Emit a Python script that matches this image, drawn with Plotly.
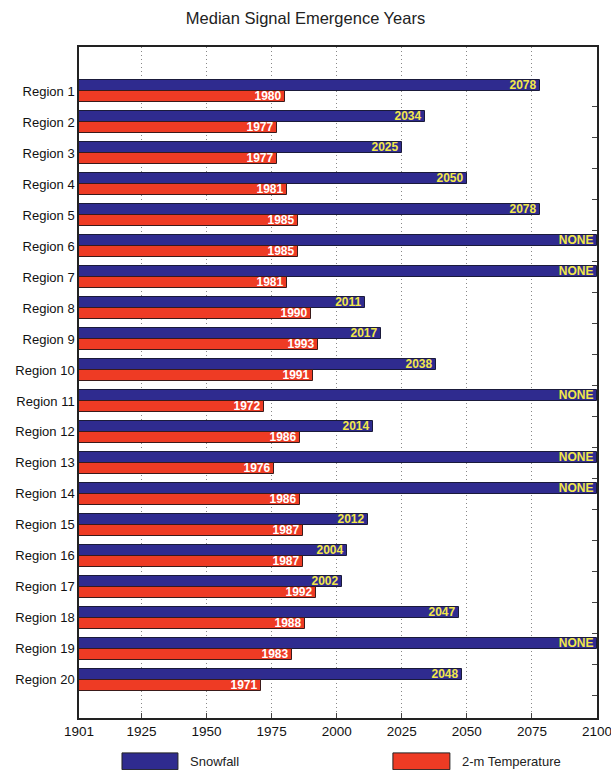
import plotly.graph_objects as go

regions = [f"Region {i}" for i in range(1, 21)]
snowfall = [2078, 2034, 2025, 2050, 2078, None, None, 2011, 2017, 2038,
            None, 2014, None, None, 2012, 2004, 2002, 2047, None, 2048]
temperature = [1980, 1977, 1977, 1981, 1985, 1985, 1981, 1990, 1993, 1991,
               1972, 1986, 1976, 1986, 1987, 1987, 1992, 1988, 1983, 1971]
x_ticks = [1901, 1925, 1950, 1975, 2000, 2025, 2050, 2075, 2100]

X0, X1 = 1901, 2100
pos = list(range(1, len(regions) + 1))

snow_end = [v if v is not None else X1 for v in snowfall]
snow_txt = [str(v) if v is not None else "NONE" for v in snowfall]

BLUE = "#2f2b8f"
RED = "#ee3b24"
FONT = "Liberation Sans, Arial, sans-serif"

fig = go.Figure()
fig.add_trace(go.Bar(
    y=[p - 0.18 for p in pos], x=[v - X0 for v in snow_end], base=X0,
    orientation="h", width=0.36, marker=dict(color=BLUE, line=dict(color="#1a1a3a", width=1)),
    text=snow_txt, textposition="inside", insidetextanchor="end", constraintext="none",
    textfont=dict(color="#f2e84a", size=12, family=FONT, weight="bold"),
    name="Snowfall", showlegend=False,
))
fig.add_trace(go.Bar(
    y=[p + 0.18 for p in pos], x=[v - X0 for v in temperature], base=X0,
    orientation="h", width=0.36, marker=dict(color=RED, line=dict(color="#3a1a1a", width=1)),
    text=[str(v) for v in temperature], textposition="inside", insidetextanchor="end",
    constraintext="none",
    textfont=dict(color="white", size=12, family=FONT, weight="bold"),
    name="2-m Temperature", showlegend=False,
))
# invisible trace for right-side tick marks
fig.add_trace(go.Scatter(x=[X0], y=[1], yaxis="y2", mode="markers",
                         marker=dict(opacity=0), showlegend=False, hoverinfo="skip"))

fig.update_layout(
    width=611, height=770,
    margin=dict(l=79, r=14, t=47, b=52),
    paper_bgcolor="white", plot_bgcolor="white",
    barmode="overlay", bargap=0,
    title=dict(text="Median Signal Emergence Years", x=0.5, xanchor="center",
               y=0.976, yanchor="middle",
               font=dict(size=16.5, family=FONT, color="#222")),
    font=dict(family=FONT, color="#111"),
    xaxis=dict(range=[X0, X1], tickvals=x_ticks, ticktext=[str(t) for t in x_ticks],
               showgrid=True, gridcolor="#888", griddash="1px,3px", gridwidth=1,
               showline=True, linecolor="#222", linewidth=1.5, mirror=True,
               ticks="inside", ticklen=5, tickcolor="#444", automargin=False,
               ticklabeloverflow="allow",
               tickfont=dict(size=13.5), zeroline=False),
    yaxis=dict(range=[21.23, -0.42], tickvals=pos, ticktext=regions,
               showgrid=False, showline=True, linecolor="#222", linewidth=1.5, mirror=True,
               ticks="", tickfont=dict(size=13), zeroline=False, automargin=False),
    yaxis2=dict(range=[21.23, -0.42], overlaying="y", side="right",
                tickvals=[p + 0.5 for p in pos], ticktext=["" for _ in pos],
                ticks="inside", ticklen=5, tickcolor="#444", automargin=False,
                showgrid=False, showline=False, zeroline=False),
)

# legend drawn beneath the plot
legend_items = [("Snowfall", BLUE, 0.083, 0.191, 0.21), ("2-m Temperature", RED, 0.606, 0.716, 0.736)]
for name, col, x0, x1, tx in legend_items:
    fig.add_shape(type="rect", xref="paper", yref="paper", x0=x0, x1=x1, y0=-0.077, y1=-0.052,
                  fillcolor=col, line=dict(color="#222", width=1))
    fig.add_annotation(xref="paper", yref="paper", x=tx, y=-0.0645, text=name, showarrow=False,
                       xanchor="left", yanchor="middle", font=dict(size=13, family=FONT, color="#222"))

fig.write_html("out.html", config={"displayModeBar": False},
               post_script="document.body.style.margin='0';document.body.style.overflow='hidden';")
